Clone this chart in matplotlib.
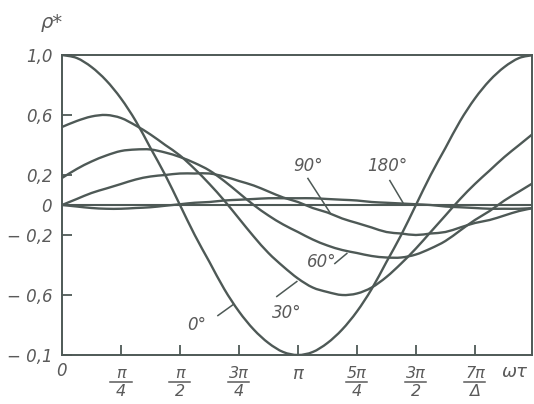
import numpy as np
import matplotlib
matplotlib.use('Agg')
import matplotlib.pyplot as plt
from matplotlib.path import Path
from matplotlib.patches import PathPatch
from matplotlib.transforms import offset_copy

# ωτ de 0 à 2π, pas de π/16
omega_tau = np.linspace(0, 2 * np.pi, 33)

# valeurs
rho_0 = [1.00, 0.98, 0.92, 0.83, 0.71, 0.56, 0.38, 0.20, 0.00, -0.20, -0.38,
         -0.56, -0.71, -0.83, -0.92, -0.98, -1.00, -0.98, -0.92, -0.83, -0.71,
         -0.56, -0.38, -0.20, 0.00, 0.20, 0.38, 0.56, 0.71, 0.83, 0.92, 0.98, 1.00]
rho_30 = [0.52, 0.56, 0.59, 0.60, 0.58, 0.53, 0.47, 0.40, 0.33, 0.24, 0.14,
          0.03, -0.09, -0.21, -0.32, -0.41, -0.49, -0.55, -0.58, -0.60, -0.59,
          -0.55, -0.48, -0.39, -0.29, -0.18, -0.07, 0.04, 0.14, 0.23, 0.32, 0.40, 0.48]
rho_60 = [0.18, 0.24, 0.29, 0.33, 0.36, 0.37, 0.37, 0.35, 0.32, 0.28, 0.23,
          0.16, 0.08, 0.00, -0.07, -0.13, -0.18, -0.23, -0.27, -0.30, -0.32,
          -0.34, -0.35, -0.35, -0.33, -0.29, -0.24, -0.17, -0.10, -0.04, 0.03, 0.09, 0.15]
rho_90 = [0.00, 0.04, 0.08, 0.11, 0.14, 0.17, 0.19, 0.20, 0.21, 0.21, 0.21,
          0.19, 0.16, 0.13, 0.09, 0.05, 0.02, -0.02, -0.05, -0.09, -0.12,
          -0.15, -0.18, -0.19, -0.20, -0.19, -0.18, -0.15, -0.12, -0.10, -0.07, -0.04, -0.02]
rho_180 = [0.00, -0.01, -0.02, -0.025, -0.025, -0.02, -0.015, -0.005, 0.005, 0.015, 0.02,
           0.03, 0.035, 0.04, 0.045, 0.045, 0.045, 0.045, 0.04, 0.035, 0.03,
           0.02, 0.015, 0.01, 0.005, 0.0, -0.01, -0.015, -0.02, -0.025, -0.025, -0.025, -0.02]

y_ticks = [1.0, 0.6, 0.2, 0.0, -0.2, -0.6, -1.0]
y_labels = ['1,0', '0,6', '0,2', '0', '− 0,2', '− 0,6', '− 0,1']
x_ticks = [np.pi / 4 * k for k in range(1, 8)]
x_num = ['π', 'π', '3π', 'π', '5π', '3π', '7π']
x_den = ['4', '2', '4', '', '4', '2', 'Δ']

angle_labels = ['0°', '30°', '60°', '90°', '180°']

couleur = '#4e5956'
texte = '#5a5a5a'
police = dict(family=['DejaVu Sans'], style='italic', color=texte)


def courbe_lisse(x, y):
    """Chemin de Bézier passant par les points (Catmull-Rom)"""
    x = np.asarray(x, float)
    y = np.asarray(y, float)
    pts = np.column_stack([x, y])
    verts = [pts[0]]
    codes = [Path.MOVETO]
    for i in range(len(pts) - 1):
        p0 = pts[i - 1] if i > 0 else pts[i]
        p1 = pts[i]
        p2 = pts[i + 1]
        p3 = pts[i + 2] if i + 2 < len(pts) else pts[i + 1]
        c1 = p1 + (p2 - p0) / 6
        c2 = p2 - (p3 - p1) / 6
        verts += [c1, c2, p2]
        codes += [Path.CURVE4] * 3
    return Path(verts, codes)


fig = plt.figure(figsize=(5.34, 4.04), dpi=100)
ax = fig.add_axes([62 / 534, 1 - 355 / 404, 470 / 534, 300 / 404])

ax.axhline(0, color=couleur, lw=1.5)
for rho in [rho_0, rho_30, rho_60, rho_90, rho_180]:
    ax.add_patch(PathPatch(courbe_lisse(omega_tau, rho), facecolor='none',
                           edgecolor=couleur, lw=1.7))

ax.set_xlim(0, 2 * np.pi * 0.996)
ax.set_ylim(-1, 1)

for s in ax.spines.values():
    s.set_color(couleur)
    s.set_linewidth(1.4)

ax.set_yticks(y_ticks)
ax.set_yticklabels(y_labels, fontsize=12, **police)
ax.set_xticks(x_ticks)
ax.set_xticklabels([''] * len(x_ticks))
ax.tick_params(direction='in', length=7, width=1.3, color=couleur, pad=7)

# étiquettes de l'axe x en fractions
trans = ax.get_xaxis_transform()
trans_barre = offset_copy(trans, fig=fig, y=-27, units='dots')
ax.annotate('0', xy=(0, 0), xycoords=trans, xytext=(-1, -16),
            textcoords='offset pixels', ha='center', va='center', fontsize=12, **police)
for xv, num, den in zip(x_ticks, x_num, x_den):
    if den == '':
        ax.annotate(num, xy=(xv, 0), xycoords=trans, xytext=(0, -19),
                    textcoords='offset pixels', ha='center', va='center', fontsize=13, **police)
        continue
    ax.annotate(num, xy=(xv, 0), xycoords=trans, xytext=(0, -18),
                textcoords='offset pixels', ha='center', va='center', fontsize=11.5, **police)
    ax.annotate(den, xy=(xv, 0), xycoords=trans, xytext=(0, -37),
                textcoords='offset pixels', ha='center', va='center', fontsize=11.5, **police)
    ax.plot([xv - 0.14, xv + 0.14], [0, 0], transform=trans_barre, color=texte,
            lw=1.1, clip_on=False)

fig.text(515 / 534, 1 - 372 / 404, 'ωτ', ha='center', va='center', fontsize=13, **police)
fig.text(52 / 534, 1 - 22 / 404, 'ρ*', ha='center', va='center', fontsize=14, **police)

# repères des courbes (texte, début et fin du trait)
reperes = [
    (1.796, -0.803, 2.076, -0.737, 2.276, -0.665),
    (2.994, -0.723, 2.86, -0.61, 3.127, -0.51),
    (3.46, -0.383, 3.633, -0.39, 3.793, -0.323),
    (3.274, 0.263, 3.274, 0.177, 3.567, -0.05),
    (4.325, 0.263, 4.365, 0.163, 4.538, 0.017),
]
for lab, (tx, ty, x1, y1, x2, y2) in zip(angle_labels, reperes):
    ax.text(tx, ty, lab, ha='center', va='center', fontsize=12, **police)
    ax.plot([x1, x2], [y1, y2], color=couleur, lw=1.1)

fig.savefig('out.png', dpi=100)
